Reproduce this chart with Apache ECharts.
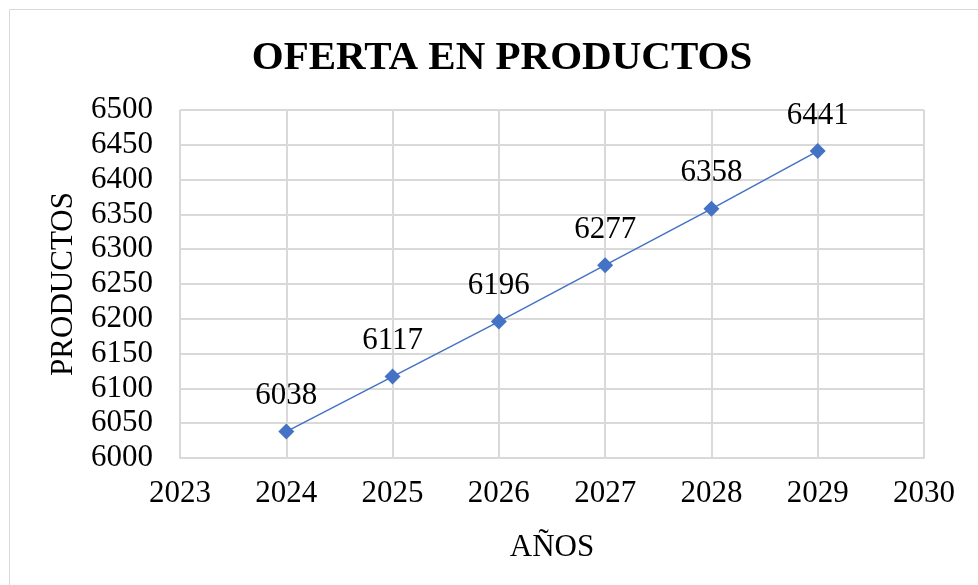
<!DOCTYPE html>
<html><head><meta charset="utf-8">
<script src="https://cdn.jsdelivr.net/npm/echarts@6/dist/echarts.min.js"></script>
<style>html,body{margin:0;padding:0;background:#fff}#c{width:978px;height:585px}</style>
</head><body><div id="c"></div>
<script>
const years = [2024, 2025, 2026, 2027, 2028, 2029];
const productos = [6038, 6117, 6196, 6277, 6358, 6441];
const title = 'OFERTA EN PRODUCTOS';
const xName = 'AÑOS';
const yName = 'PRODUCTOS';
const F = '"Liberation Serif", "Times New Roman", serif';
const chart = echarts.init(document.getElementById('c'));
chart.setOption({
  backgroundColor: '#fff',
  animation: false,
  title: { text: title, left: 497, top: 33, textAlign: 'center',
    textStyle: { fontFamily: F, fontSize: 41, fontWeight: 'bold', color: '#000' } },
  graphic: [{ type: 'rect', shape: { x: 9.5, y: 9.5, width: 1000, height: 1000 },
    style: { fill: 'none', stroke: '#d9d9d9', lineWidth: 1 }, silent: true }],
  grid: { left: 180, right: 54, top: 110, bottom: 127 },
  xAxis: { type: 'value', min: 2023, max: 2030, interval: 1,
    name: xName, nameLocation: 'middle', nameGap: 74,
    nameTextStyle: { fontFamily: F, fontSize: 31, color: '#000' },
    axisLine: { show: true, lineStyle: { color: '#d9d9d9', width: 2 } },
    axisTick: { show: false },
    axisLabel: { fontFamily: F, fontSize: 31, color: '#000', margin: 20, formatter: v => String(v) },
    splitLine: { show: true, lineStyle: { color: '#d9d9d9', width: 2 } } },
  yAxis: { type: 'value', min: 6000, max: 6500, interval: 50,
    name: yName, nameLocation: 'middle', nameGap: 101,
    nameTextStyle: { fontFamily: F, fontSize: 31, color: '#000' },
    axisLine: { show: false }, axisTick: { show: false },
    axisLabel: { fontFamily: F, fontSize: 31, color: '#000', margin: 27, formatter: v => String(v) },
    splitLine: { show: true, lineStyle: { color: '#d9d9d9', width: 2 } } },
  series: [{ type: 'line', data: years.map((y, i) => [y, productos[i]]),
    symbol: 'diamond', symbolSize: 16,
    lineStyle: { color: '#4472C4', width: 1.5 },
    itemStyle: { color: '#4472C4' },
    label: { show: true, position: 'top', distance: 12,
      fontFamily: F, fontSize: 31, color: '#000',
      formatter: p => p.value[1] } }]
});
</script></body></html>
